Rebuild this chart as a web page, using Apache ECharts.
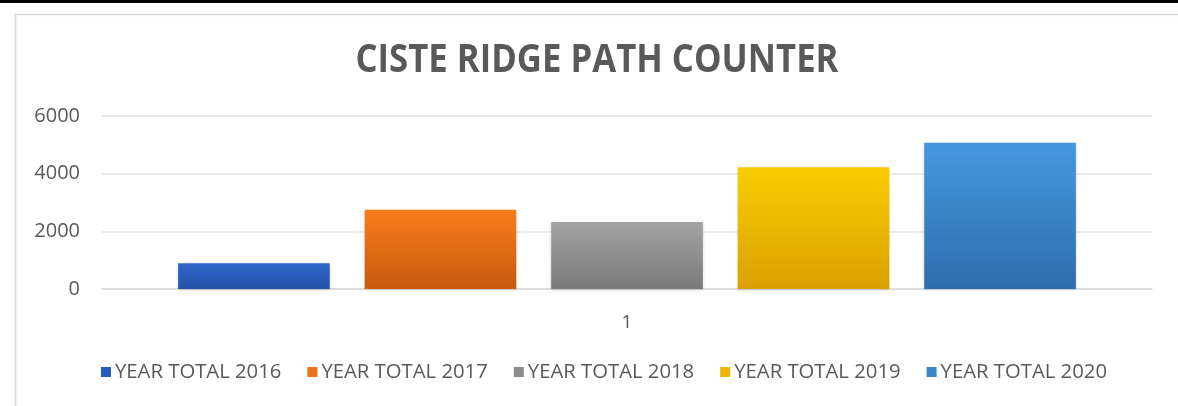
<!DOCTYPE html>
<html>
<head>
<meta charset="utf-8">
<script src="https://cdn.jsdelivr.net/npm/echarts@6/dist/echarts.min.js"></script>
<style>
html,body{margin:0;padding:0;background:#fff;}
#chart{width:1178px;height:406px;}
</style>
</head>
<body>
<div id="chart"></div>
<script>
const title = 'CISTE RIDGE PATH COUNTER';
const categories = ['1'];
const seriesNames = ['YEAR TOTAL 2016', 'YEAR TOTAL 2017', 'YEAR TOTAL 2018', 'YEAR TOTAL 2019', 'YEAR TOTAL 2020'];
const values2016 = [890];
const values2017 = [2750];
const values2018 = [2320];
const values2019 = [4220];
const values2020 = [5070];
const yTicks = [0, 2000, 4000, 6000];

const allValues = [values2016, values2017, values2018, values2019, values2020];
const topColors = ['#2f66cc', '#f97c1c', '#a3a3a3', '#facd00', '#4597de'];
const bottomColors = ['#2452a6', '#c65a0e', '#7a7a7a', '#dba000', '#2e6eab'];
const legendColors = ['#2a5bbf', '#eb711a', '#8e8e8e', '#ebb500', '#3a86cc'];

const chart = echarts.init(document.getElementById('chart'), null, {renderer: 'canvas'});

const series = seriesNames.map((name, i) => ({
  name: name,
  type: 'bar',
  data: allValues[i],
  barGap: '23%',
  barCategoryGap: '14.5%',
  itemStyle: {
    color: new echarts.graphic.LinearGradient(0, 0, 0, 1, [
      {offset: 0, color: topColors[i]},
      {offset: 1, color: bottomColors[i]}
    ]),
    shadowColor: 'rgba(0,0,0,0.18)',
    shadowBlur: 3,
    shadowOffsetY: 1
  },
  emphasis: {disabled: true}
}));

const option = {
  animation: false,
  backgroundColor: '#ffffff',
  graphic: [
    {type: 'rect', shape: {x: 0, y: 0, width: 1178, height: 3}, style: {fill: '#000'}, silent: true},
    {type: 'rect', shape: {x: 15.5, y: 14.5, width: 1175, height: 400}, style: {fill: 'none', stroke: '#dcdcdc', lineWidth: 1.5, shadowColor: 'rgba(0,0,0,0.08)', shadowBlur: 3}, silent: true},
    {type: 'text', x: 597, y: 61, scaleX: 0.89, scaleY: 1,
      style: {text: title, x: 0, y: 0, align: 'center', verticalAlign: 'middle',
        font: 'bold 39px "Open Sans", sans-serif', fill: '#595959'}, silent: true}
  ],
  legend: {
    data: seriesNames.map((n, i) => ({name: n, itemStyle: {color: legendColors[i]}})),
    left: 96,
    top: 357,
    icon: 'rect',
    itemWidth: 10,
    itemHeight: 10,
    itemGap: 26,
    textStyle: {fontFamily: '"Open Sans", sans-serif', fontSize: 20.3, color: '#595959', padding: [0, 0, 0, -1]}
  },
  grid: {left: 102, right: 26, top: 116, bottom: 117, containLabel: false},
  xAxis: {
    type: 'category',
    data: categories,
    axisLine: {show: true, lineStyle: {color: '#d9d9d9', width: 1.5}},
    axisTick: {show: false},
    axisLabel: {fontFamily: '"Open Sans", sans-serif', fontSize: 19, color: '#595959', margin: 24}
  },
  yAxis: {
    type: 'value',
    min: yTicks[0],
    max: yTicks[yTicks.length - 1],
    interval: yTicks[1] - yTicks[0],
    axisLine: {show: false},
    axisTick: {show: false},
    splitLine: {lineStyle: {color: '#e3e3e3', width: 1.5}},
    axisLabel: {fontFamily: '"Open Sans", sans-serif', fontSize: 20, color: '#595959', margin: 22,
      formatter: v => String(v)}
  },
  series: series
};
chart.setOption(option);
</script>
</body>
</html>
